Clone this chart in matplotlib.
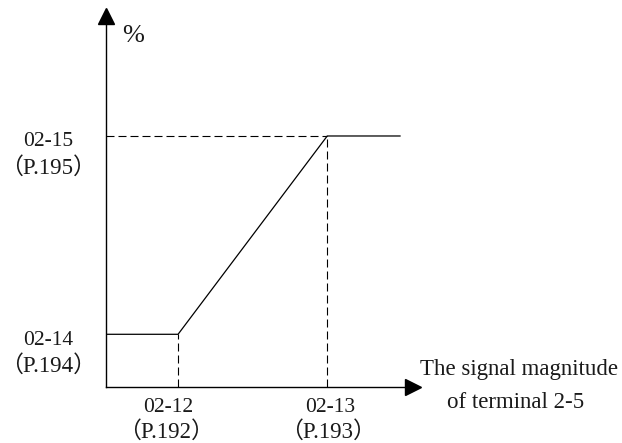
import matplotlib
matplotlib.use('Agg')
import matplotlib.pyplot as plt

plt.rcParams['font.family'] = ['Liberation Serif', 'Noto Sans CJK SC', 'DejaVu Sans']

# signal magnitude (arbitrary units) and output percentage of the curve
SIGNAL = [0.0, 1.0, 3.07, 4.08]
PERCENT = [21.0, 21.0, 100.0, 100.0]
X_LIMIT = 4.26
Y_LIMIT = 148.0

X_MARKS = [1.0, 3.07]
X_LABELS = [('02-12', '（P.192）'), ('02-13', '（P.193）')]
X_SHIFT = [-10, 3]
Y_MARKS = [21.0, 100.0]
Y_LABELS = [('02-14', '（P.194）'), ('02-15', '（P.195）')]
X_TITLE = ['The signal magnitude', 'of terminal 2-5']
Y_TITLE = '%'

FS = 15.5
INK = '#1a1a1a'

fig = plt.figure(figsize=(6.22, 4.43), dpi=100)
ax = fig.add_axes([106 / 622, 56 / 443, 307 / 622, 371.5 / 443])
ax.set_xlim(0, X_LIMIT)
ax.set_ylim(0, Y_LIMIT)
ax.set_xticks([])
ax.set_yticks([])
for side in ('top', 'right'):
    ax.spines[side].set_visible(False)
for side in ('left', 'bottom'):
    ax.spines[side].set_linewidth(1.0)
    ax.spines[side].set_color('black')

# arrow heads on the axes
ax.plot(1, 0, '>', color='black', ms=11, transform=ax.get_yaxis_transform(),
        clip_on=False)
ax.plot(0, 1, '^', color='black', ms=11, transform=ax.get_xaxis_transform(),
        clip_on=False)

# guide lines
dash = dict(color='black', lw=0.8, dashes=(7.2, 3.6))
ax.plot([0, X_MARKS[1]], [Y_MARKS[1], Y_MARKS[1]], **dash)
for xm, ym in zip(X_MARKS, Y_MARKS):
    ax.plot([xm, xm], [0, ym], **dash)

# the curve itself
ax.plot(SIGNAL, PERCENT, color='black', lw=0.9, solid_joinstyle='miter')

for xm, (l1, l2), dx in zip(X_MARKS, X_LABELS, X_SHIFT):
    ax.annotate(l1, xy=(xm, 0), xytext=(dx, -20), textcoords='offset pixels',
                ha='center', va='center', fontsize=FS, color=INK,
                annotation_clip=False)
    ax.annotate(l2, xy=(xm, 0), xytext=(dx - 2, -45),
                textcoords='offset pixels', ha='center', va='center',
                fontsize=FS + 1, color=INK, annotation_clip=False)

for ym, (l1, l2) in zip(Y_MARKS, Y_LABELS):
    ax.annotate(l1, xy=(0, ym), xytext=(-58, -6), textcoords='offset pixels',
                ha='center', va='center', fontsize=FS, color=INK,
                annotation_clip=False)
    ax.annotate(l2, xy=(0, ym), xytext=(-58, -32),
                textcoords='offset pixels', ha='center', va='center',
                fontsize=FS + 1, color=INK, annotation_clip=False)

ax.annotate(X_TITLE[0], xy=(1, 0), xycoords='axes fraction',
            xytext=(106, 17), textcoords='offset pixels',
            ha='center', va='center', fontsize=16.5, color=INK,
            annotation_clip=False)
ax.annotate(X_TITLE[1], xy=(1, 0), xycoords='axes fraction',
            xytext=(103, -16), textcoords='offset pixels',
            ha='center', va='center', fontsize=16.5, color=INK,
            annotation_clip=False)
ax.annotate(Y_TITLE, xy=(0, 1), xycoords='axes fraction',
            xytext=(27, -21), textcoords='offset pixels',
            ha='center', va='center', fontsize=19, color=INK,
            annotation_clip=False)

fig.savefig('out.png', dpi=100)
